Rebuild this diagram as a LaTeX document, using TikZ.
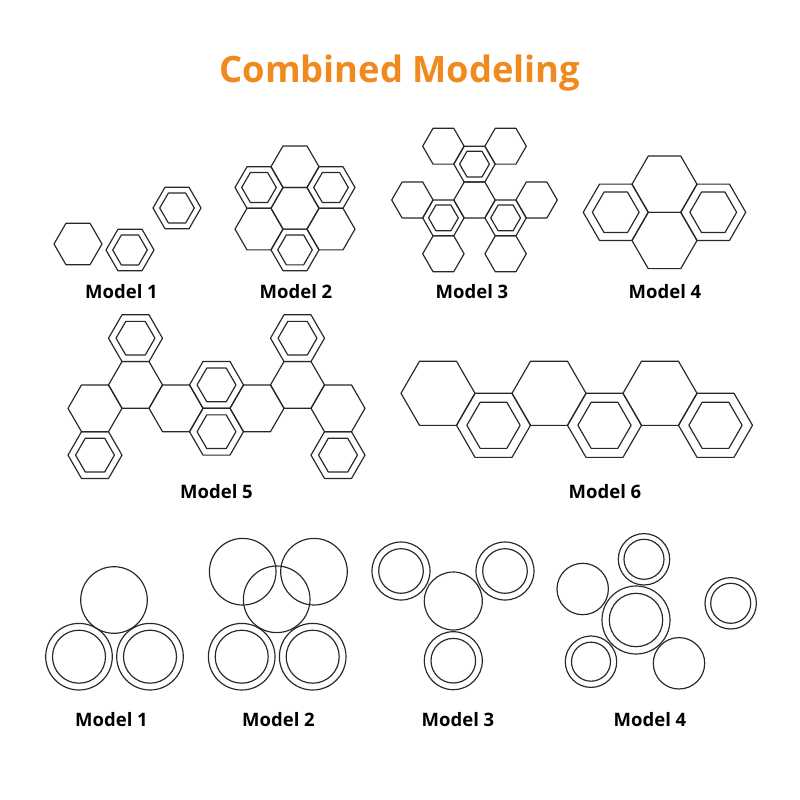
\documentclass[tikz,border=0pt]{standalone}
\usepackage{fontspec}
\setmainfont{Open Sans}
\usetikzlibrary{positioning}
\definecolor{titleorange}{RGB}{240,138,30}
\definecolor{inkgray}{RGB}{40,40,40}

% one flat-topped hexagon: centre x, centre y, radius
\newcommand{\hexcell}[3]{%
  \draw[hexline, shift={(#1,#2)}] (0:#3) \foreach \a in {60,120,...,300}{ -- (\a:#3)} -- cycle;}
% hexagon with an inner hexagon
\newcommand{\hexring}[3]{\hexcell{#1}{#2}{#3}\hexcell{#1}{#2}{0.72*#3}}
% circle with an inner circle
\newcommand{\ringcell}[4]{\draw[hexline] (#1,#2) circle (#3) (#1,#2) circle (#4);}

\begin{document}
\begin{tikzpicture}[
    x=0.03cm, y=-0.03cm,
    hexline/.style={draw=inkgray, line width=1pt, line join=round},
    modellabel/.style={font=\bfseries\fontsize{15.8}{18}\selectfont, anchor=base},
    headline/.style={font=\bfseries\fontsize{31}{36}\selectfont, text=titleorange, anchor=base}
]
  \useasboundingbox (0,0) rectangle (800,800);

  % Title
  \node[headline] (title) at (400,82) {Combined Modeling};

  % Hexagon Model 1
  \hexcell{78}{244}{24}
  \hexring{130}{250}{24}
  \hexring{177}{208}{24}

  % Hexagon Model 2 (seven cells round a centre)
  \hexcell{295}{166.7}{24}
  \hexring{259}{187.5}{24}
  \hexring{331}{187.5}{24}
  \hexcell{295}{208.3}{24}
  \hexcell{259}{229.1}{24}
  \hexcell{331}{229.1}{24}
  \hexring{295}{249.9}{24}

  % Hexagon Model 3
  \hexcell{474.5}{200}{20.7}
  \hexring{474.5}{164.1}{20.7}
  \hexcell{443.4}{146.2}{20.7}
  \hexcell{505.6}{146.2}{20.7}
  \hexring{443.4}{217.9}{20.7}
  \hexcell{412.4}{200}{20.7}
  \hexcell{443.4}{253.8}{20.7}
  \hexring{505.6}{217.9}{20.7}
  \hexcell{536.6}{200}{20.7}
  \hexcell{505.6}{253.8}{20.7}

  % Hexagon Model 4
  \hexcell{664.5}{184.2}{32.5}
  \hexcell{664.5}{240.5}{32.5}
  \hexring{615.75}{212.3}{32.5}
  \hexring{713.25}{212.3}{32.5}

  % Hexagon Model 5
  \hexcell{95}{408.3}{27}
  \hexring{95}{455.1}{27}
  \hexring{135.5}{338.2}{27}
  \hexcell{135.5}{384.9}{27}
  \hexcell{176}{408.3}{27}
  \hexring{216.5}{384.9}{27}
  \hexring{216.5}{431.7}{27}
  \hexcell{257}{408.3}{27}
  \hexcell{297.5}{384.9}{27}
  \hexring{297.5}{338.2}{27}
  \hexcell{338}{408.3}{27}
  \hexring{338}{455.1}{27}

  % Hexagon Model 6
  \hexcell{438}{393.3}{37}
  \hexring{493.5}{425.3}{37}
  \hexcell{549}{393.3}{37}
  \hexring{604.5}{425.3}{37}
  \hexcell{660}{393.3}{37}
  \hexring{715.5}{425.3}{37}

  % Circle Model 1
  \draw[hexline] (114,600) circle (33.3);
  \ringcell{79}{656.7}{33.3}{26.5}
  \ringcell{150}{656.7}{33.3}{26.5}

  % Circle Model 2
  \draw[hexline] (242.7,571.7) circle (33.3);
  \draw[hexline] (314,571.7) circle (33.3);
  \draw[hexline] (276.7,599.3) circle (33.3);
  \ringcell{241.7}{656.7}{33.3}{26.5}
  \ringcell{312.7}{656.7}{33.3}{26.5}

  % Circle Model 3
  \ringcell{401}{571}{29}{22.3}
  \ringcell{505}{571}{29}{22.3}
  \draw[hexline] (453.3,601) circle (29);
  \ringcell{453.3}{660.7}{29}{22.3}

  % Circle Model 4
  \ringcell{644}{559.3}{25.7}{20}
  \draw[hexline] (582.7,589) circle (25.7);
  \ringcell{636}{620}{34}{26.7}
  \ringcell{730.7}{603.3}{25.7}{20}
  \ringcell{591}{661.7}{25.7}{19.5}
  \draw[hexline] (679,663.3) circle (25.7);

  % Labels
  \node[modellabel] (hexA) at (121.5,298) {Model 1};
  \node[modellabel] (hexB) at (296,298) {Model 2};
  \node[modellabel] (hexC) at (472,298) {Model 3};
  \node[modellabel] (hexD) at (665,298) {Model 4};
  \node[modellabel] (hexE) at (216.5,498) {Model 5};
  \node[modellabel] (hexF) at (605,498) {Model 6};
  \node[modellabel] (ringA) at (111.5,726) {Model 1};
  \node[modellabel] (ringB) at (278.5,726) {Model 2};
  \node[modellabel] (ringC) at (458,726) {Model 3};
  \node[modellabel] (ringD) at (650,726) {Model 4};

\end{tikzpicture}
\end{document}
